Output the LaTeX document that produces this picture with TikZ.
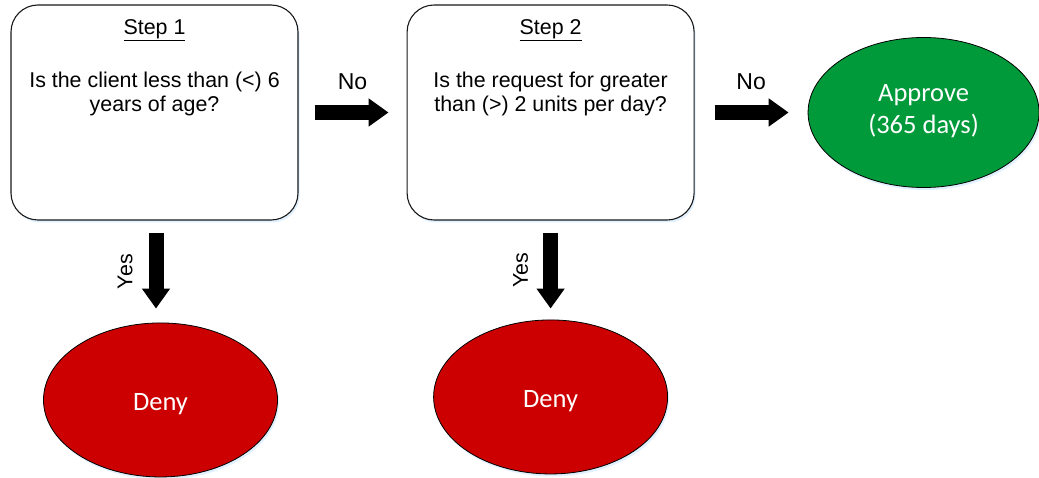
\documentclass[tikz,border=0pt]{standalone}
\usepackage{fontspec}
\setmainfont{Liberation Sans}
\newfontfamily\calibri{Carlito}
\usetikzlibrary{positioning,shapes.geometric,arrows.meta,shadows}
\definecolor{denyred}{RGB}{204,0,0}
\definecolor{okgreen}{RGB}{0,154,58}

\begin{document}
\begin{tikzpicture}[
    every node/.style={font=\fontsize{21.4}{24}\selectfont},
    glow/.style={drop shadow={shadow xshift=1.5pt, shadow yshift=-2.5pt, fill=blue!50!cyan, opacity=0.12}},
    stepbox/.style={draw=black!90, line width=1.1pt, rounded corners=27pt, fill=white,
      minimum width=287pt, minimum height=215pt, inner sep=0pt, glow},
    result/.style={ellipse, draw=black, line width=0.8pt, minimum width=234pt, minimum height=154pt,
      inner sep=0pt, text=white, align=center, glow, font=\calibri\fontsize{26.5}{32}\selectfont},
    question/.style={anchor=north, align=center, inner sep=0pt},
    answer/.style={font=\fontsize{23}{26}\selectfont},
    bigarrow/.style={line width=15pt, -{Triangle[width=27pt,length=20pt]}},
  ]
  \useasboundingbox (0,0) rectangle (1039pt,-478pt);

  \node[stepbox] (step1) at (154.5pt,-112.5pt) {};
  \node[stepbox, right=108pt of step1] (step2) {};
  \node[result, fill=okgreen, right=113pt of step2, minimum width=231pt, minimum height=150pt] (approve) {Approve\\(365 days)\rule[-7pt]{0pt}{0pt}};
  \node[result, fill=denyred, below=102pt of step1, xshift=6pt, text height=27pt, text depth=5pt] (deny1) {Deny};
  \node[result, fill=denyred, below=99pt of step2, text height=27pt, text depth=5pt] (deny2) {Deny};

  \node[anchor=base] (title1) at ([yshift=-30pt]step1.north) {\underline{Step 1}};
  \node[anchor=base] (title2) at ([yshift=-30pt]step2.north) {\underline{Step 2}};
  \node[question] (ask1) at ([yshift=-67pt]step1.north) {Is the client less than (<) 6\\years of age?};
  \node[question] (ask2) at ([yshift=-67pt]step2.north) {Is the request for greater\\than (>) 2 units per day?};

  \draw[bigarrow, shorten <=16pt, shorten >=18pt] (step1.east) -- node[answer, midway, yshift=31pt] (no1) {No} (step2.west);
  \draw[bigarrow, shorten <=20pt, shorten >=19pt] (step2.east) -- node[answer, midway, yshift=31pt] (no2) {No} (approve.west);
  \draw[bigarrow, shorten <=12pt, shorten >=14pt] ([xshift=1.5pt]step1.south) --
    node[midway, xshift=-31pt, rotate=90] (yes1) {Yes} ([xshift=1.5pt]step1.south |- deny1.north);
  \draw[bigarrow, shorten <=12pt, shorten >=11pt] (step2.south) --
    node[midway, xshift=-30pt, rotate=90] (yes2) {Yes} (step2.south |- deny2.north);
\end{tikzpicture}
\end{document}
